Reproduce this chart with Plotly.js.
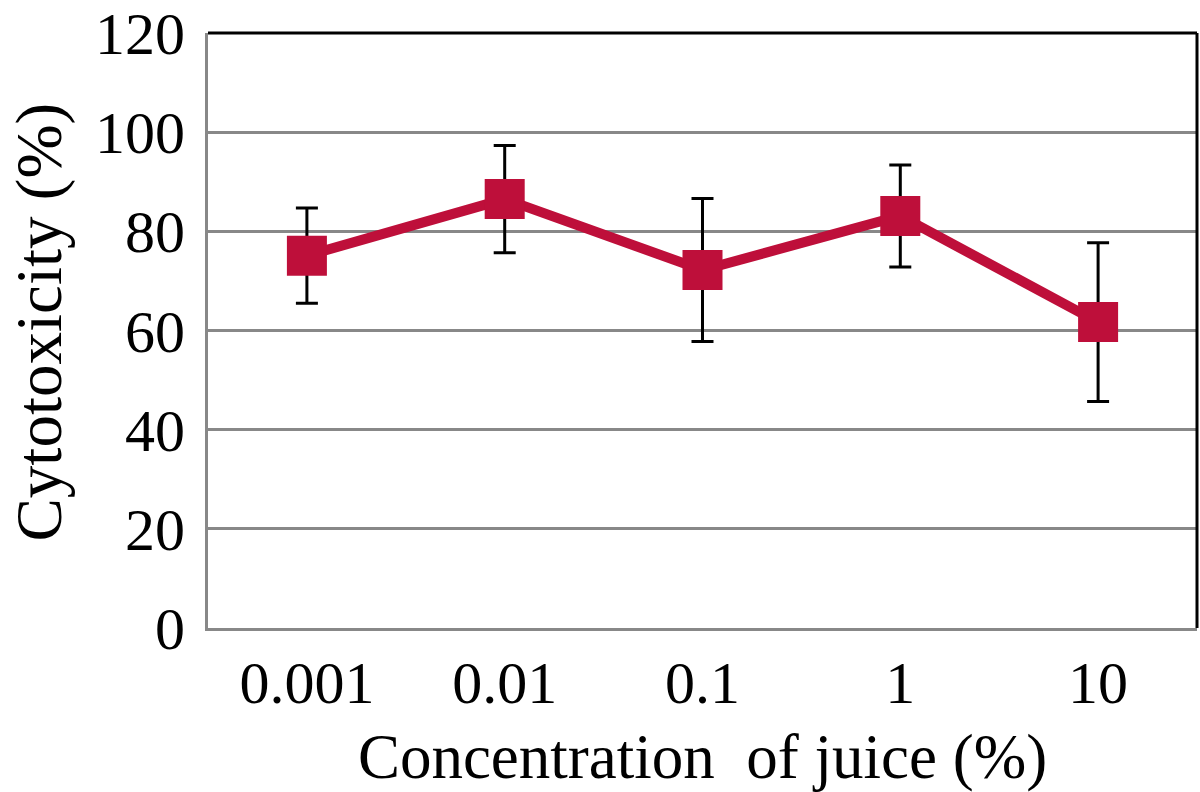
<!DOCTYPE html>
<html>
<head>
<meta charset="utf-8">
<script src="https://cdn.plot.ly/plotly-3.0.1.min.js"></script>
<style>html,body{margin:0;padding:0;background:#fff}#chart{width:1200px;height:792px}</style>
</head>
<body>
<div id="chart"></div>
<script>
const categories = ["0.001", "0.01", "0.1", "1", "10"];
const cytotoxicity = [75.1, 86.5, 72.2, 83.1, 61.7];
const errorValues = [9.6, 10.8, 14.4, 10.3, 16.0];
const yTickValues = [0, 20, 40, 60, 80, 100, 120];
const xTitle = "Concentration  of juice (%)";
const yTitle = "Cytotoxicity (%)";

const serif = "Liberation Serif, Times New Roman, serif";

const trace = {
  x: categories,
  y: cytotoxicity,
  type: "scatter",
  mode: "lines+markers",
  line: {color: "#BE0F3A", width: 10},
  marker: {symbol: "square", size: 40, color: "#BE0F3A"},
  error_y: {type: "data", array: errorValues, visible: true, color: "#000", thickness: 3, width: 11},
  cliponaxis: false,
  hoverinfo: "skip"
};

const layout = {
  width: 1200,
  height: 792,
  margin: {l: 208, r: 3, t: 33, b: 164},
  paper_bgcolor: "#fff",
  plot_bgcolor: "#fff",
  showlegend: false,
  font: {family: serif, color: "#000", size: 60},
  xaxis: {
    type: "category",
    range: [-0.5, 4.5],
    showgrid: false,
    showline: true,
    linecolor: "#888",
    linewidth: 3,
    ticks: "",
    tickfont: {family: serif, size: 60, color: "#000"},
    title: {text: xTitle, font: {family: serif, size: 63, color: "#000"}},
    automargin: false
  },
  yaxis: {
    range: [0, 120],
    tickvals: yTickValues,
    ticktext: yTickValues.map(String),
    showgrid: true,
    gridcolor: "#888",
    gridwidth: 3,
    zeroline: false,
    showline: true,
    linecolor: "#888",
    linewidth: 3,
    ticks: "outside",
    ticklen: 8,
    tickcolor: "rgba(0,0,0,0)",
    tickfont: {family: serif, size: 60, color: "#000"},
    automargin: false
  },
  annotations: [
    {text: yTitle, xref: "paper", yref: "paper", x: 0, y: 0.5, xanchor: "center", yanchor: "middle",
     xshift: -170, yshift: 8, textangle: -90, showarrow: false, borderpad: 0,
     font: {family: serif, size: 65, color: "#000"}}
  ],
  shapes: [
    {type: "line", xref: "paper", yref: "paper", x0: 0, x1: 1, y0: 1, y1: 1, line: {color: "#000", width: 3}},
    {type: "line", xref: "paper", yref: "paper", x0: 1, x1: 1, y0: 0, y1: 1, line: {color: "#000", width: 3}}
  ]
};

Plotly.newPlot("chart", [trace], layout, {displayModeBar: false, staticPlot: true});
</script>
</body>
</html>
